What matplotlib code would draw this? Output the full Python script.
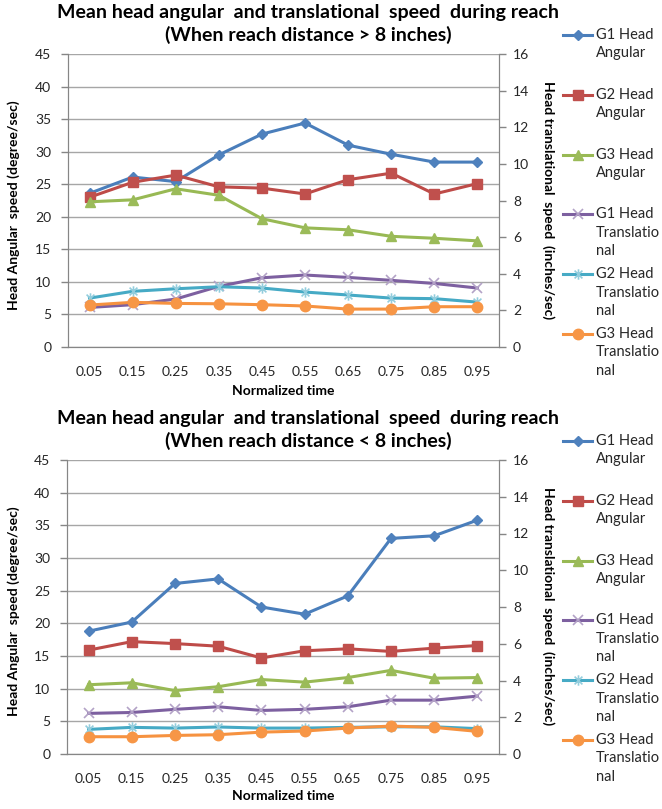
import matplotlib
matplotlib.use("Agg")
import matplotlib.pyplot as plt
from matplotlib.lines import Line2D
from matplotlib.path import Path

plt.rcParams['font.family'] = ['Lato', 'DejaVu Sans']

# ---- data -------------------------------------------------------------
time_labels = ["0.05", "0.15", "0.25", "0.35", "0.45", "0.55", "0.65", "0.75", "0.85", "0.95"]

titles = ["Mean head angular  and translational  speed  during reach\n(When reach distance > 8 inches)",
          "Mean head angular  and translational  speed  during reach\n(When reach distance < 8 inches)"]

series_names = ["G1 Head Angular", "G2 Head Angular", "G3 Head Angular",
                "G1 Head Translational", "G2 Head Translational", "G3 Head Translational"]
legend_lines = [["G1 Head", "Angular"], ["G2 Head", "Angular"], ["G3 Head", "Angular"],
                ["G1 Head", "Translatio", "nal"], ["G2 Head", "Translatio", "nal"],
                ["G3 Head", "Translatio", "nal"]]

# reach distance > 8 inches
far_g1_ang = [23.6, 26.1, 25.4, 29.5, 32.7, 34.4, 31.0, 29.6, 28.4, 28.4]
far_g2_ang = [23.0, 25.3, 26.4, 24.6, 24.4, 23.5, 25.7, 26.7, 23.5, 25.1]
far_g3_ang = [22.3, 22.6, 24.3, 23.3, 19.7, 18.3, 18.0, 17.0, 16.7, 16.3]
far_g1_tr = [2.16, 2.31, 2.62, 3.31, 3.78, 3.93, 3.80, 3.64, 3.47, 3.22]
far_g2_tr = [2.67, 3.04, 3.18, 3.29, 3.22, 3.00, 2.84, 2.67, 2.64, 2.45]
far_g3_tr = [2.29, 2.44, 2.38, 2.36, 2.31, 2.24, 2.07, 2.07, 2.20, 2.20]

# reach distance < 8 inches
near_g1_ang = [18.8, 20.2, 26.1, 26.8, 22.5, 21.4, 24.2, 33.0, 33.4, 35.8]
near_g2_ang = [15.9, 17.2, 16.9, 16.5, 14.7, 15.8, 16.1, 15.7, 16.2, 16.6]
near_g3_ang = [10.6, 10.9, 9.7, 10.3, 11.4, 11.0, 11.7, 12.8, 11.6, 11.7]
near_g1_tr = [2.21, 2.26, 2.43, 2.57, 2.37, 2.43, 2.57, 2.93, 2.93, 3.15]
near_g2_tr = [1.34, 1.45, 1.41, 1.47, 1.41, 1.41, 1.45, 1.48, 1.48, 1.38]
near_g3_tr = [0.94, 0.94, 1.01, 1.05, 1.19, 1.25, 1.41, 1.52, 1.45, 1.23]

# ---- styles -----------------------------------------------------------
asterisk = Path([(0, -1), (0, 1), (-0.75, -0.75), (0.75, 0.75), (-0.75, 0.75), (0.75, -0.75)],
                [Path.MOVETO, Path.LINETO, Path.MOVETO, Path.LINETO, Path.MOVETO, Path.LINETO])

styles = [
    dict(color="#4A7EBB", marker="D", ms=5.5, mfc="#4F81BD", mec="#4F81BD"),
    dict(color="#BE4B48", marker="s", ms=7.5, mfc="#C0504D", mec="#C0504D"),
    dict(color="#98B954", marker="^", ms=7.5, mfc="#9BBB59", mec="#9BBB59"),
    dict(color="#7D60A0", marker="x", ms=7.5, mfc="none", mec="#B3A2C7", mew=1.2),
    dict(color="#46AAC5", marker=asterisk, ms=7.5, mfc="none", mec="#93CDDD", mew=1.2),
    dict(color="#F69240", marker="o", ms=7.5, mfc="#F79646", mec="#F79646"),
]

W, H = 662, 809
fig = plt.figure(figsize=(W / 100, H / 100), dpi=100)


def fx(px):
    return px / W


def fy(py):
    return 1 - py / H


def axes_box(left, top, right, bottom):
    return [fx(left), fy(bottom), fx(right) - fx(left), fy(top) - fy(bottom)]


GRID = "#A6A6A6"
SPINE = "#868686"
TXT = "#262626"


def draw_panel(box, title, title_y, ang_series, tr_series, xlabel_y, ylab_y, leg_top):
    ax = fig.add_axes(box)
    ax2 = ax.twinx()
    x = list(range(len(time_labels)))

    for vals, st in zip(ang_series, styles[:3]):
        ax.plot(x, vals, lw=2.2, clip_on=False, zorder=3, **st)
    for vals, st in zip(tr_series, styles[3:]):
        ax2.plot(x, vals, lw=2.2, clip_on=False, zorder=3, **st)

    ax.set_xlim(-0.5, len(time_labels) - 0.5)
    ax.set_ylim(0, 45)
    ax.set_yticks(range(0, 46, 5))
    ax2.set_ylim(0, 16)
    ax2.set_yticks(range(0, 17, 2))
    ax.set_xticks(x)
    ax.set_xticklabels(time_labels)

    ax.grid(axis="y", color=GRID, lw=1.0)
    ax.set_axisbelow(True)
    for a in (ax, ax2):
        a.spines["top"].set_visible(False)
        a.spines["left"].set_color(SPINE)
        a.spines["right"].set_color(SPINE)
        a.spines["bottom"].set_color(SPINE)
    ax.tick_params(axis="y", direction="out", length=5, width=1, color=SPINE,
                   labelsize=10, labelcolor=TXT, pad=7)
    ax.tick_params(axis="x", length=0, labelsize=10, labelcolor=TXT, pad=14)
    ax2.tick_params(axis="y", direction="out", length=5, width=1, color=SPINE,
                    labelsize=10, labelcolor=TXT, pad=5)

    fig.text(fx(308), fy(title_y), title, ha="center", va="center", fontsize=14,
             fontweight="bold", color="black", linespacing=1.35)
    fig.text(fx(283), fy(xlabel_y), "Normalized time", ha="center", va="center",
             fontsize=10, fontweight="bold", color="black")
    fig.text(fx(14), fy(ylab_y), "Head Angular  speed (degree/sec)", rotation=90,
             ha="center", va="center", fontsize=10, fontweight="bold", color="black")
    fig.text(fx(548), fy(ylab_y - 5), "Head translational  speed  (inches/sec)", rotation=-90,
             ha="center", va="center", fontsize=10, fontweight="bold", color="black")

    # legend on the right, one entry every ~60 px
    for i, (lines, st) in enumerate(zip(legend_lines, styles)):
        yc = leg_top + i * 59.8
        fig.add_artist(Line2D([fx(563), fx(592)], [fy(yc), fy(yc)], transform=fig.transFigure,
                              lw=2.2, color=st["color"]))
        fig.add_artist(Line2D([fx(577.5)], [fy(yc)], transform=fig.transFigure, lw=0,
                              marker=st["marker"], ms=st["ms"], mfc=st["mfc"], mec=st["mec"],
                              mew=st.get("mew", 1.0)))
        for j, ln in enumerate(lines):
            fig.text(fx(596), fy(yc + j * 18.5), ln, ha="left", va="center",
                     fontsize=10.5, color=TXT)
    return ax, ax2


draw_panel(axes_box(68, 54, 499, 347), titles[0], 24,
           [far_g1_ang, far_g2_ang, far_g3_ang], [far_g1_tr, far_g2_tr, far_g3_tr], 391, 205, 35)
draw_panel(axes_box(67, 460, 499, 754), titles[1], 430,
           [near_g1_ang, near_g2_ang, near_g3_ang], [near_g1_tr, near_g2_tr, near_g3_tr], 796, 611, 441)

fig.savefig("out.png", dpi=100)
